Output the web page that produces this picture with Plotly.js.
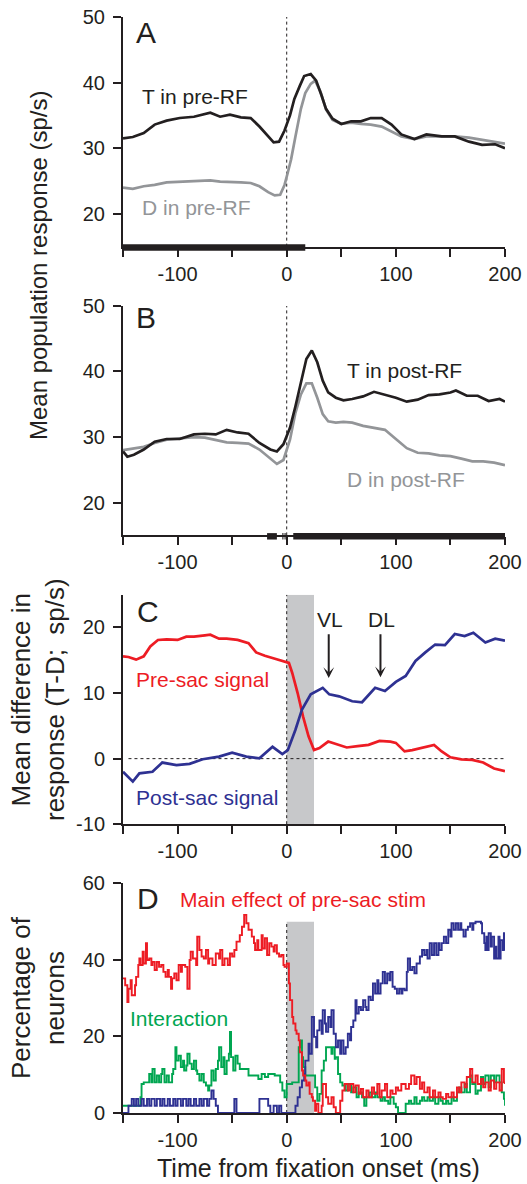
<!DOCTYPE html>
<html>
<head>
<meta charset="utf-8">
<script src="https://cdn.plot.ly/plotly-3.0.1.min.js"></script>
<style>html,body{margin:0;padding:0;background:#fff;}#chart{width:527px;height:1184px;}</style>
</head>
<body>
<div id="chart"></div>
<script>
// ---------------- DATA (time in ms) ----------------
const xTickVals = [-150, -100, -50, 0, 50, 100, 150, 200];
const xTickText = ['', '-100', '', '0', '', '100', '', '200'];
const yTickValsAB = [20, 30, 40, 50];
const yTickValsC = [-10, 0, 10, 20];
const yTickTextC = ['-10', '0', '10', '20'];
const yTickValsD = [0, 20, 40, 60];

// Panel A
const A_T_in_preRF = [[-150,31.5],[-141,31.7],[-131,32.3],[-121,33.6],[-110,34.2],[-98,34.6],[-85,34.8],[-70,35.4],[-61,34.8],[-52,35.1],[-42,34.7],[-33,34.6],[-25,33.3],[-17,31.8],[-12,30.9],[-7,31.0],[-2,32.7],[3,35.0],[7,37.5],[12,39.5],[16,41.0],[22,41.3],[27,40.3],[32,38.0],[36,36.0],[42,34.5],[50,33.7],[59,34.1],[68,34.1],[77,34.6],[87,34.6],[96,33.6],[105,32.1],[117,31.4],[128,32.1],[142,31.8],[154,31.8],[167,31.0],[179,30.5],[191,30.6],[200,30.0]];
const A_D_in_preRF = [[-150,24.0],[-141,23.8],[-131,24.2],[-121,24.4],[-110,24.8],[-98,24.9],[-85,24.9],[-70,25.1],[-61,24.9],[-52,24.9],[-42,24.8],[-33,24.7],[-25,24.2],[-17,23.3],[-11,22.8],[-6,22.9],[-2,24.4],[1,26.3],[4,28.3],[8,31.8],[13,36.0],[17,38.4],[22,39.8],[26,40.3],[31,38.6],[36,35.9],[42,34.3],[50,33.7],[59,33.9],[68,33.7],[77,33.6],[87,33.3],[96,32.5],[105,31.8],[117,31.4],[128,31.8],[142,31.8],[154,31.8],[167,31.6],[179,31.3],[191,31.0],[200,30.7]];
const A_sig = [[-150, 17]];

// Panel B
const B_T_in_postRF = [[-150,27.8],[-146,27.0],[-140,27.3],[-131,28.1],[-121,29.3],[-110,29.7],[-98,29.7],[-85,30.4],[-75,30.5],[-65,30.4],[-55,31.1],[-45,30.7],[-35,30.5],[-25,29.1],[-15,28.1],[-9,27.8],[-3,28.9],[3,31.4],[8,34.7],[13,38.1],[18,41.9],[23,43.2],[28,41.4],[33,38.6],[38,36.8],[45,36.0],[52,35.6],[60,35.8],[70,36.2],[80,36.9],[90,36.5],[100,36.0],[110,35.4],[120,35.7],[130,36.4],[140,36.5],[150,36.8],[155,37.1],[165,36.3],[175,36.3],[185,35.5],[195,35.8],[200,35.4]];
const B_D_in_postRF = [[-150,28.0],[-140,28.3],[-131,28.5],[-121,29.1],[-110,29.6],[-98,29.8],[-85,30.0],[-75,29.9],[-65,29.6],[-55,29.2],[-45,29.1],[-35,29.0],[-25,28.1],[-15,26.7],[-9,25.9],[-3,26.5],[3,29.6],[8,33.7],[13,36.5],[18,38.2],[23,38.2],[28,36.0],[33,33.5],[38,32.4],[45,32.2],[52,32.3],[60,32.2],[70,31.7],[80,31.4],[90,31.1],[100,29.7],[110,28.3],[120,27.6],[130,27.5],[140,27.2],[150,27.1],[160,26.7],[170,26.3],[180,26.3],[190,26.1],[200,25.7]];
const B_sig = [[-18, -9], [-4, -3], [-2, -1], [6, 200]];

// Panel C
const C_preSac = [[-150,15.6],[-145,15.5],[-138,15.1],[-131,15.6],[-125,17.1],[-118,18.1],[-110,18.2],[-100,18.1],[-92,18.6],[-85,18.6],[-75,18.8],[-70,18.9],[-62,18.3],[-55,18.3],[-45,18.1],[-35,17.6],[-28,16.2],[-20,15.7],[-10,15.2],[-2,14.8],[2,14.6],[5,13.1],[10,10.0],[15,6.4],[20,3.4],[25,1.3],[30,1.6],[38,2.6],[45,2.2],[55,1.7],[65,1.9],[75,2.1],[85,2.7],[95,2.6],[100,2.4],[108,1.1],[115,1.3],[125,1.7],[135,2.1],[142,1.1],[150,0.2],[160,-0.1],[170,-0.2],[180,-0.6],[190,-1.5],[200,-1.9]];
const C_postSac = [[-150,-2.0],[-141,-3.5],[-135,-2.25],[-123,-2.0],[-114,-0.6],[-101,-1.0],[-89,-0.8],[-77,-0.1],[-62,0.3],[-50,0.9],[-37,0.3],[-25,0.05],[-13,1.8],[-4,0.7],[1,1.3],[8,4.4],[14,7.5],[22,9.8],[33,10.8],[39,9.8],[48,9.5],[60,8.75],[69,8.6],[81,10.8],[90,10.3],[100,11.7],[109,12.6],[118,14.9],[127,16.2],[136,17.4],[145,17.3],[154,19.0],[163,18.7],[171,19.2],[182,17.7],[191,18.3],[200,18.0]];
const C_shade = [0, 25];

// Panel D (percentage of neurons)
const D_preSac = [[-150,35.2],[-148,33.4],[-146,29.0],[-145,32.5],[-143,34.7],[-142,30.8],[-139,33.4],[-138,35.6],[-136,38.7],[-135,40.4],[-134,38.7],[-132,42.2],[-131,39.1],[-129,44.4],[-128,40.0],[-126,40.4],[-124,38.7],[-123,39.5],[-121,37.4],[-119,39.5],[-117,38.2],[-115,38.7],[-113,36.9],[-111,35.6],[-109,37.4],[-108,35.6],[-106,32.5],[-105,35.2],[-103,36.5],[-101,34.7],[-99,38.7],[-97,36.9],[-96,38.7],[-93,38.2],[-91,32.5],[-89,40.0],[-88,42.2],[-86,40.4],[-83,38.7],[-82,46.1],[-80,42.6],[-78,40.9],[-76,40.4],[-74,42.6],[-72,39.1],[-71,40.4],[-68,38.7],[-66,38.7],[-65,41.7],[-62,40.4],[-61,42.6],[-59,38.7],[-57,40.4],[-54,38.7],[-52,41.7],[-50,40.9],[-48,42.6],[-46,44.8],[-43,46.5],[-41,48.7],[-39,51.8],[-37,49.6],[-35,47.9],[-32,46.1],[-30,44.4],[-29,42.6],[-27,45.2],[-26,42.6],[-23,46.5],[-22,43.0],[-20,45.7],[-18,41.3],[-16,44.4],[-14,43.5],[-12,42.2],[-11,43.9],[-9,41.7],[-7,40.9],[-5,41.3],[-3,38.7],[-2,38.2],[0,39.1],[2,33.9],[3,29.5],[5,25.1],[6,23.4],[8,21.6],[9,20.7],[11,19.0],[12,15.9],[14,11.1],[15,9.8],[17,8.5],[18,7.2],[20,8.0],[21,5.0],[23,4.1],[24,3.2],[26,0.6],[27,2.4],[29,0],[32,1.9],[33,7.6],[36,4.1],[38,2.4],[41,4.1],[43,1.5],[45,0],[47,0],[49,3.2],[51,5.9],[53,7.6],[56,5.9],[58,7.6],[61,5.4],[63,7.2],[66,5.0],[68,6.3],[70,4.1],[73,5.9],[75,4.1],[78,6.7],[80,5.0],[83,7.6],[85,4.1],[87,5.9],[90,7.6],[92,4.1],[95,5.9],[97,5.0],[100,6.7],[102,5.9],[105,7.6],[107,7.6],[109,6.3],[112,7.6],[114,9.8],[117,7.6],[119,9.4],[122,6.3],[124,8.0],[126,5.4],[129,6.7],[131,4.1],[134,5.9],[136,4.1],[139,5.4],[141,4.1],[143,3.7],[146,5.0],[148,4.1],[151,5.4],[153,4.1],[156,6.7],[158,5.4],[160,8.0],[163,6.7],[165,9.4],[168,11.5],[170,8.0],[173,9.8],[175,7.6],[178,8.9],[180,6.7],[182,8.0],[185,5.9],[187,8.5],[190,6.3],[192,8.0],[195,5.9],[197,11.5],[199,8.0],[200,7.6]];
const D_interaction = [[-150,1.9],[-141,1.9],[-136,1.9],[-134,4.1],[-133,7.6],[-131,8.0],[-129,8.0],[-126,10.2],[-124,8.0],[-123,11.5],[-121,8.0],[-119,9.8],[-117,8.0],[-115,10.2],[-114,11.5],[-112,8.0],[-110,9.8],[-108,8.0],[-105,10.2],[-104,11.5],[-102,17.2],[-101,13.7],[-99,15.0],[-97,12.0],[-95,13.7],[-94,11.1],[-92,12.4],[-91,15.5],[-89,12.9],[-87,11.5],[-85,13.7],[-83,11.1],[-82,10.2],[-80,8.5],[-78,10.2],[-76,8.0],[-74,7.2],[-72,5.9],[-71,7.2],[-69,11.1],[-67,8.5],[-65,11.5],[-63,13.7],[-62,17.2],[-60,12.0],[-58,14.6],[-57,10.2],[-55,13.7],[-53,15.5],[-52,21.2],[-51,14.6],[-49,11.1],[-47,15.0],[-45,12.9],[-43,11.5],[-38,11.5],[-35,9.8],[-29,9.8],[-26,8.9],[-23,10.2],[-20,9.4],[-17,10.2],[-11,9.8],[-8,9.8],[-6,8.0],[-4,5.9],[-2,4.1],[0,7.6],[5,8.0],[8,8.0],[11,17.2],[13,19.0],[14,14.6],[15,12.0],[17,9.8],[23,9.8],[26,6.7],[28,3.2],[30,5.0],[32,11.1],[34,13.7],[36,17.2],[39,17.2],[41,15.5],[42,17.2],[44,14.2],[45,14.6],[47,10.2],[49,8.0],[51,7.2],[54,5.9],[56,7.6],[59,5.4],[61,6.7],[64,4.1],[66,5.4],[69,4.1],[71,1.9],[73,4.1],[76,5.4],[78,4.1],[81,5.4],[83,4.1],[86,3.2],[88,4.1],[90,3.2],[93,2.4],[95,4.1],[98,2.4],[100,1.5],[102,0],[105,0],[107,0],[109,2.4],[112,3.2],[114,2.4],[117,4.1],[119,2.4],[122,3.2],[124,4.1],[126,3.2],[129,4.1],[131,3.2],[134,4.1],[136,2.4],[139,4.1],[141,3.2],[143,2.4],[146,3.2],[148,2.4],[151,4.1],[153,3.2],[156,5.4],[158,6.7],[160,5.4],[163,7.6],[165,5.4],[168,9.8],[170,7.6],[173,5.0],[175,5.9],[178,9.4],[180,7.6],[182,9.8],[185,6.7],[187,9.8],[190,8.0],[192,9.8],[195,8.0],[197,5.4],[199,3.7],[200,1.9]];
const D_postSac = [[-150,0],[-147,0],[-145,1.9],[-142,3.7],[-140,1.9],[-138,3.7],[-136,1.9],[-133,3.7],[-131,1.9],[-128,3.7],[-126,1.9],[-124,3.7],[-121,1.9],[-119,3.7],[-116,1.9],[-114,3.7],[-112,1.9],[-109,3.7],[-107,1.9],[-104,3.7],[-102,1.9],[-100,3.7],[-97,1.9],[-95,3.7],[-92,1.9],[-90,3.7],[-88,1.9],[-85,3.7],[-83,1.9],[-80,3.7],[-78,1.9],[-76,3.7],[-73,1.9],[-71,3.7],[-69,5.9],[-67,3.7],[-65,1.9],[-63,0],[-48,3.7],[-46,0],[-25,3.7],[-20,3.7],[-17,1.9],[-15,0],[-12,1.9],[-9,0],[-7,1.9],[-5,0],[6,0],[8,1.9],[10,4.1],[12,6.7],[14,8.5],[16,10.2],[17,13.7],[20,18.1],[21,15.5],[23,25.1],[25,19.9],[27,17.2],[28,21.6],[30,24.2],[32,20.7],[33,26.9],[35,23.4],[36,21.2],[38,25.1],[40,22.5],[41,26.9],[43,20.7],[45,17.2],[47,19.0],[49,15.5],[50,19.0],[52,15.5],[54,17.2],[56,20.7],[58,19.0],[59,22.5],[61,24.2],[63,29.5],[64,26.0],[66,27.7],[68,26.9],[70,29.5],[72,27.7],[73,26.9],[75,30.4],[77,29.5],[79,33.9],[81,31.2],[83,34.7],[84,31.2],[86,33.9],[88,36.9],[90,33.9],[92,36.5],[94,34.7],[95,36.9],[97,33.0],[99,32.5],[101,31.2],[103,32.5],[105,31.2],[106,32.5],[108,32.1],[110,36.9],[111,40.4],[113,37.4],[115,38.2],[117,36.5],[119,39.1],[120,39.1],[122,40.9],[124,42.6],[126,41.3],[128,42.6],[129,40.4],[131,44.4],[133,41.3],[135,44.4],[137,41.3],[139,44.4],[140,42.6],[142,44.4],[144,46.1],[146,44.4],[148,47.9],[150,46.1],[151,49.6],[153,47.9],[155,49.6],[157,47.9],[159,49.6],[160,47.9],[162,46.1],[164,47.9],[166,48.7],[168,49.6],[170,47.9],[171,49.6],[173,50.0],[176,50.0],[178,49.6],[179,47.0],[181,44.4],[182,42.6],[183,46.1],[184,42.6],[185,47.0],[187,43.5],[188,46.1],[190,40.4],[191,43.5],[192,40.4],[194,46.1],[195,40.4],[196,45.2],[198,42.6],[199,47.0],[200,42.6]];
const D_shade = [0, 25, 50]; // x0, x1, top

// ---------------- STYLE ----------------
const FONT = 'Liberation Sans, Arial, Helvetica, sans-serif';
const INK = '#231f20', GREY = '#939598', RED = '#ed1c24', BLUE = '#2e3192', GREEN = '#00a651', SHADE = '#c7c8ca';

function xy(p) { return { x: p.map(d => d[0]), y: p.map(d => d[1]) }; }
function line(p, ax, color, width, shape) {
  return Object.assign(xy(p), { type: 'scatter', mode: 'lines', xaxis: 'x' + ax, yaxis: 'y' + ax,
    line: { color: color, width: width, shape: shape || 'linear' }, hoverinfo: 'skip' });
}

const traces = [
  line(A_D_in_preRF, '', GREY, 2.7), line(A_T_in_preRF, '', INK, 2.7),
  line(B_D_in_postRF, '2', GREY, 2.7), line(B_T_in_postRF, '2', INK, 2.7),
  line(C_preSac, '3', RED, 2.7), line(C_postSac, '3', BLUE, 2.7),
  line(D_interaction, '4', GREEN, 1.9, 'hv'), line(D_postSac, '4', BLUE, 1.9, 'hv'), line(D_preSac, '4', RED, 1.9, 'hv')
];

const tickFont = { family: FONT, size: 20, color: INK };
function xAxis(anchor) {
  return { domain: [0, 1], anchor: anchor, range: [-150, 200], showline: true, linecolor: INK, linewidth: 2,
    ticks: 'outside', ticklen: 8, tickwidth: 2, tickcolor: INK, tickmode: 'array', tickvals: xTickVals, ticktext: xTickText,
    tickfont: tickFont, showgrid: false, zeroline: false, fixedrange: true };
}
function yAxis(anchor, domain, range, vals, text) {
  return { domain: domain, anchor: anchor, range: range, showline: true, linecolor: INK, linewidth: 2,
    ticks: 'outside', ticklen: 8, tickwidth: 2, tickcolor: INK, tickmode: 'array', tickvals: vals, ticktext: text || vals.map(String),
    tickfont: tickFont, ticklabelstandoff: 4, showgrid: false, zeroline: false, fixedrange: true };
}

const shapes = [];
// shaded windows
shapes.push({ type: 'rect', xref: 'x3', yref: 'y3', x0: C_shade[0], x1: C_shade[1], y0: -10, y1: 25, fillcolor: SHADE, line: { width: 0 }, layer: 'below' });
shapes.push({ type: 'rect', xref: 'x4', yref: 'y4', x0: D_shade[0], x1: D_shade[1], y0: 0, y1: D_shade[2], fillcolor: SHADE, line: { width: 0 }, layer: 'below' });
// dashed lines at fixation onset
const dashLine = { color: INK, width: 1, dash: '3px,3px' };
[['x', 'y', 15, 50], ['x2', 'y2', 15, 50], ['x3', 'y3', -10, 25], ['x4', 'y4', 0, 50]].forEach(s => {
  shapes.push({ type: 'line', xref: s[0], yref: s[1], x0: 0, x1: 0, y0: s[2], y1: s[3], line: dashLine, layer: 'below' });
});
shapes.push({ type: 'line', xref: 'x3', yref: 'y3', x0: -145, x1: 200, y0: 0, y1: 0, line: dashLine, layer: 'below' });
// significance bars on the time axis
A_sig.forEach(b => shapes.push({ type: 'rect', xref: 'x', yref: 'y domain', x0: b[0], x1: b[1], y0: -0.018, y1: 0.01, fillcolor: INK, line: { width: 0 }, layer: 'above' }));
B_sig.forEach(b => shapes.push({ type: 'rect', xref: 'x2', yref: 'y2 domain', x0: b[0], x1: b[1], y0: -0.018, y1: 0.01, fillcolor: INK, line: { width: 0 }, layer: 'above' }));

function txt(text, ax, x, y, color, size, xanchor) {
  return { text: text, xref: 'x' + ax, yref: 'y' + ax, x: x, y: y, showarrow: false, xanchor: xanchor || 'center', yanchor: 'middle',
    font: { family: FONT, size: size || 21, color: color || INK } };
}
const annotations = [
  txt('A', '', -140, 47.7, INK, 30, 'left'),
  txt('T in pre-RF', '', -83.6, 37.9, INK),
  txt('D in pre-RF', '', -83, 21.0, GREY),
  txt('B', '2', -140, 48.3, INK, 30, 'left'),
  txt('T in post-RF', '2', 108.3, 40.1, INK),
  txt('D in post-RF', '2', 108.9, 23.5, GREY),
  txt('C', '3', -139, 22.5, INK, 30, 'left'),
  txt('Pre-sac signal', '3', -77.4, 12.0, RED),
  txt('Post-sac signal', '3', -73.1, -5.9, BLUE),
  txt('VL', '3', 39.7, 21.2, INK),
  txt('DL', '3', 86.5, 21.2, INK),
  txt('D', '4', -139, 56.2, INK, 30, 'left'),
  txt('Main effect of pre-sac stim', '4', 14.5, 55.7, RED),
  txt('Interaction', '4', -99, 24.7, GREEN),
  txt('Main effect', '4', 211.3, 29.8, BLUE, 21, 'right'),
  txt('of post-sac stim', '4', 210.4, 23.0, BLUE, 21, 'right'),
  // arrows VL / DL
  { text: '', xref: 'x3', yref: 'y3', axref: 'x3', ayref: 'y3', x: 38.5, y: 12.3, ax: 38.5, ay: 19.2, showarrow: true,
    arrowhead: 3, arrowsize: 0.9, arrowwidth: 2, arrowcolor: INK, standoff: 0 },
  { text: '', xref: 'x3', yref: 'y3', axref: 'x3', ayref: 'y3', x: 85.9, y: 12.4, ax: 85.9, ay: 19.2, showarrow: true,
    arrowhead: 3, arrowsize: 0.9, arrowwidth: 2, arrowcolor: INK, standoff: 0 },
  // axis titles
  { text: 'Mean population response (sp/s)', xref: 'paper', yref: 'paper', x: -0.2225, y: 0.7737, textangle: -90, showarrow: false,
    xanchor: 'center', yanchor: 'middle', font: { family: FONT, size: 24, color: INK } },
  { text: 'Mean difference in<br>response (T-D;\u00a0 sp/s)', xref: 'paper', yref: 'paper', x: -0.2225, y: 0.3768, textangle: -90, showarrow: false,
    xanchor: 'center', yanchor: 'middle', font: { family: FONT, size: 26, color: INK } },
  { text: 'Percentage of<br>neurons', xref: 'paper', yref: 'paper', x: -0.2225, y: 0.1049, textangle: -90, showarrow: false,
    xanchor: 'center', yanchor: 'middle', font: { family: FONT, size: 26, color: INK } },
  { text: 'Time from fixation onset (ms)', xref: 'paper', yref: 'paper', x: 0.5105, y: -0.0505, showarrow: false,
    xanchor: 'center', yanchor: 'middle', font: { family: FONT, size: 25, color: INK } }
];

const layout = {
  width: 527, height: 1184,
  margin: { l: 123, r: 22, t: 17, b: 71 },
  paper_bgcolor: '#ffffff', plot_bgcolor: '#ffffff',
  showlegend: false,
  font: { family: FONT, color: INK },
  xaxis: xAxis('y'), xaxis2: xAxis('y2'), xaxis3: xAxis('y3'), xaxis4: xAxis('y4'),
  yaxis: yAxis('x', [0.7905, 1], [15, 50], yTickValsAB),
  yaxis2: yAxis('x2', [0.527, 0.7364], [15, 50], yTickValsAB),
  yaxis3: yAxis('x3', [0.2635, 0.4729], [-10, 25], yTickValsC, yTickTextC),
  yaxis4: yAxis('x4', [0, 0.2094], [0, 60], yTickValsD),
  shapes: shapes,
  annotations: annotations
};

Plotly.newPlot('chart', traces, layout, { staticPlot: true, displayModeBar: false });
</script>
</body>
</html>
